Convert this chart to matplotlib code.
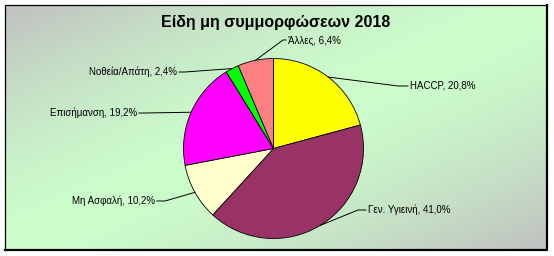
import numpy as np
import matplotlib
matplotlib.use('Agg')
import matplotlib.pyplot as plt

categories = ['HACCP', 'Γεν. Υγιεινή', 'Μη Ασφαλή', 'Επισήμανση', 'Νοθεία/Απάτη', 'Άλλες']
shares = [20.8, 41.0, 10.2, 19.2, 2.4, 6.4]
colors = ['#FFFF00', '#993366', '#FFFFCC', '#FF00FF', '#00FF00', '#FF8080']
title = 'Είδη μη συμμορφώσεων 2018'

W, H = 554, 256
plt.rcParams['font.family'] = ['Liberation Sans', 'DejaVu Sans']

fig = plt.figure(figsize=(W / 100, H / 100), dpi=100)
ax = fig.add_axes([0, 0, 1, 1])

# chart area with diagonal gradient (grey corners -> green middle)
x0, x1, y0, y1 = 5, 547, 6, 251
u = np.linspace(0, 1, 400)
v = np.linspace(0, 1, 200)
U, V = np.meshgrid(u, v)
d = (np.abs(U + V - 1) ** 1.4)[..., None]
green = np.array([0xCC, 0xFF, 0xCC]) / 255
gray = np.array([0xC0, 0xC0, 0xC0]) / 255
img = green * (1 - d) + gray * d
ax.imshow(img, extent=(x0, x1, y0, y1), origin='upper', interpolation='bilinear', zorder=0)

# frame, heavier on right/bottom
ax.plot([x0, x0, x1], [y0, y1, y1], color='black', lw=0.9, zorder=1, solid_capstyle='projecting')
ax.plot([x0, x1, x1], [y0, y0, y1], color='black', lw=1.6, zorder=1, solid_capstyle='projecting')

cx, cy, r = 273.5, H - 148.5, 90
wedges, _ = ax.pie(shares, colors=colors, startangle=90, counterclock=False,
                   radius=r, center=(cx, cy),
                   wedgeprops=dict(edgecolor='black', linewidth=0.6))
for w in wedges:
    w.set_zorder(2)

ax.set_xlim(0, W)
ax.set_ylim(0, H)
ax.set_aspect('auto')
ax.axis('off')

ax.text(276, H - 23, title, ha='center', va='center', fontsize=11.5, fontweight='bold', zorder=3)

# label layout: text anchor (x, y from top), alignment, elbow x
label_pos = [(410, 86), (368, 210), (155, 201), (137, 113), (177, 72), (288, 40)]
label_ha = ['left', 'left', 'right', 'right', 'right', 'left']
elbow_x = [398, 358, 165, 145, 185, 283]

for w, name, val, (tx, ty), ha, ex in zip(wedges, categories, shares, label_pos, label_ha, elbow_x):
    mid = np.deg2rad((w.theta1 + w.theta2) / 2)
    px, py = cx + r * np.cos(mid), cy + r * np.sin(mid)
    ty = H - ty
    end = tx - 2 if ha == 'left' else tx + 2
    ax.plot([px, ex, end], [py, ty, ty], color='black', lw=0.7, zorder=3)
    txt = f'{name}, ' + f'{val:.1f}'.replace('.', ',') + '%'
    ax.text(tx, ty, txt, ha=ha, va='center', fontsize=7, zorder=3)

fig.savefig('out.png', dpi=100, facecolor='white')
